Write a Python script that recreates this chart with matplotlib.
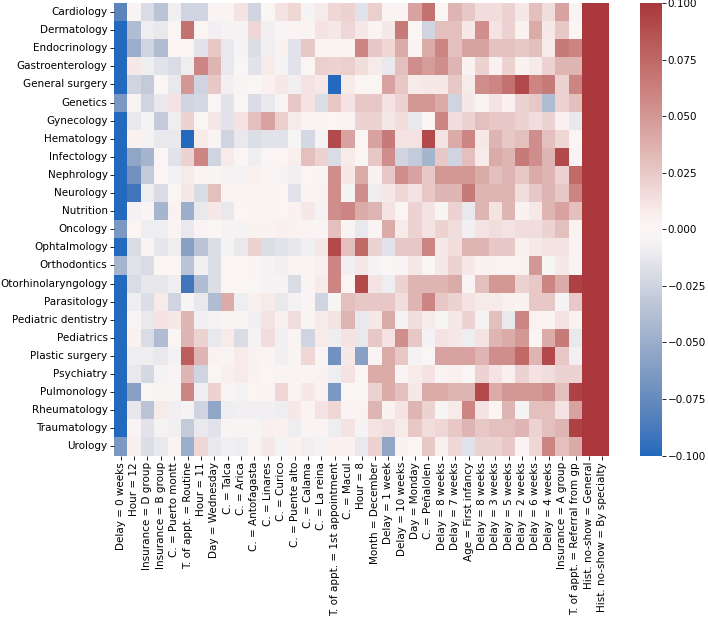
import numpy as np
import pandas as pd
import matplotlib
matplotlib.use('Agg')
import matplotlib.pyplot as plt
import seaborn as sns

features = ['Delay = 0 weeks', 'Hour = 12', 'Insurance = D group', 'Insurance = B group',
            'C. = Puerto montt', 'T. of appt. = Routine', 'Hour = 11', 'Day = Wednesday',
            'C. = Talca', 'C. = Arica', 'C. = Antofagasta', 'C. = Linares', 'C. = Curico',
            'C. = Puente alto', 'C. = Calama', 'C. = La reina', 'T. of appt. = 1st appointment',
            'C. = Macul', 'Hour = 8', 'Month = December', 'Delay = 1 week', 'Delay = 10 weeks',
            'Day = Monday', 'C. = Peñalolen', 'Delay = 8 weeks', 'Delay = 7 weeks',
            'Age = First infancy', 'Delay = 8 weeks', 'Delay = 3 weeks', 'Delay = 5 weeks',
            'Delay = 2 weeks', 'Delay = 6 weeks', 'Delay = 4 weeks', 'Insurance = A group',
            'T. of appt. = Referral from gp', 'Hist. no-show = General', 'Hist. no-show = By specialty']

specialties = ['Cardiology', 'Dermatology', 'Endocrinology', 'Gastroenterology', 'General surgery',
               'Genetics', 'Gynecology', 'Hematology', 'Infectology', 'Nephrology', 'Neurology',
               'Nutrition', 'Oncology', 'Ophtalmology', 'Orthodontics', 'Otorhinolaryngology',
               'Parasitology', 'Pediatric dentistry', 'Pediatrics', 'Plastic surgery', 'Psychiatry',
               'Pulmonology', 'Rheumatology', 'Traumatology', 'Urology']

# last two columns (history of no-shows) are well above the colour range
cardiology = [-0.08, 0.003, -0.02, -0.035, -0.008, -0.025, -0.025, 0.003, 0.003, 0.012, -0.025, 0.002, 0.012, 0.018, -0.005, 0.008,
              0.018, 0.02, -0.015, 0.022, 0.003, 0.003, 0.045, 0.07, 0.002, 0.035, 0.025, 0.015, 0.015, 0.02, 0.01, 0.03, 0.015, 0.045, 0.003, 0.2, 0.3]
dermatology = [-0.1, -0.04, -0.01, -0.012, 0.002, 0.07, 0.002, -0.008, -0.006, -0.006, 0.018, -0.008, 0.003, 0.003, 0.003, 0.012,
               0.01, 0.018, 0.01, 0.003, 0.01, 0.065, 0.002, -0.025, 0.03, 0.03, 0.01, 0.055, 0.012, 0.02, 0.004, 0.04, 0.01, 0.025, 0.002, 0.2, 0.3]
endocrinology = [-0.1, -0.05, -0.025, -0.04, 0.002, 0.002, -0.015, 0.025, -0.012, -0.005, -0.018, -0.008, 0.004, -0.015, 0.025, 0.003,
                 0.003, 0.003, 0.06, 0.025, 0.018, 0.04, 0.003, 0.04, 0.06, 0.03, 0.045, 0.045, 0.028, 0.028, 0.025, 0.03, 0.008, 0.065, 0.06, 0.2, 0.3]
gastroenterology = [-0.1, 0.01, -0.01, -0.015, -0.02, -0.01, 0.06, 0.035, -0.012, -0.003, -0.015, 0.008, -0.006, -0.015, 0.002, 0.022,
                    0.02, 0.022, 0.015, 0.008, -0.012, 0.03, 0.055, 0.048, 0.055, 0.035, 0.004, 0.02, 0.004, 0.02, 0.004, 0.008, 0.02, 0.035, 0.035, 0.2, 0.3]
general_surgery = [-0.1, -0.025, -0.03, -0.003, -0.012, 0.05, -0.025, 0.025, -0.008, -0.004, -0.003, 0.005, 0.01, -0.008, 0.012, 0.01,
                   -0.1, 0.008, 0.002, 0.002, 0.045, 0.025, 0.008, 0.01, 0.01, 0.025, 0.008, 0.055, 0.06, 0.07, 0.09, 0.06, 0.065, 0.02, 0.06, 0.2, 0.3]
genetics = [-0.065, 0.003, -0.025, -0.012, 0.012, -0.025, -0.022, -0.003, -0.015, 0.002, -0.02, -0.012, 0.003, 0.025, 0.012, -0.018,
            0.025, 0.012, 0.025, 0.025, 0.012, 0.02, 0.05, 0.05, 0.04, -0.025, 0.01, 0.003, 0.012, 0.005, 0.02, 0.025, -0.04, 0.02, 0.03, 0.2, 0.3]
gynecology = [-0.1, -0.012, -0.006, -0.03, -0.01, 0.02, 0.002, 0.01, -0.015, 0.012, 0.03, 0.045, 0.022, 0.008, 0.003, 0.003,
              0.002, 0.003, 0.02, 0.02, 0.01, 0.015, -0.012, 0.002, 0.06, 0.015, 0.02, 0.03, 0.025, 0.025, 0.02, 0.015, 0.02, 0.005, -0.012, 0.2, 0.3]
hematology = [-0.1, 0.004, -0.006, -0.012, -0.012, -0.1, 0.008, 0.003, -0.025, -0.012, -0.018, -0.015, -0.015, -0.004, -0.022, -0.006,
              0.09, 0.045, 0.002, 0.045, 0.065, 0.012, 0.012, 0.09, 0.012, 0.04, 0.06, 0.01, 0.035, 0.025, 0.03, 0.055, 0.03, 0.018, 0.002, 0.2, 0.3]
infectology = [-0.1, -0.055, -0.045, 0.0, -0.015, 0.02, 0.06, -0.025, 0.008, -0.003, -0.01, 0.001, 0.002, 0.007, 0.03, 0.02,
               -0.02, 0.008, 0.002, 0.025, 0.055, -0.025, -0.03, -0.045, 0.025, -0.025, 0.03, 0.008, 0.04, 0.035, 0.065, 0.055, 0.035, 0.09, 0.003, 0.2, 0.3]
nephrology = [-0.1, -0.07, -0.03, 0.001, -0.007, 0.008, 0.003, -0.004, -0.006, -0.006, 0.005, 0.003, -0.005, -0.008, 0.002, 0.003,
              0.055, 0.01, 0.04, 0.004, 0.025, 0.055, 0.045, 0.025, 0.05, 0.05, 0.05, 0.04, 0.03, 0.035, 0.025, 0.04, 0.035, 0.02, 0.075, 0.2, 0.3]
neurology = [-0.1, -0.09, -0.01, -0.02, 0.002, 0.01, -0.02, 0.03, 0.003, 0.003, 0.003, 0.003, 0.002, -0.015, 0.003, 0.004,
             0.055, -0.005, 0.055, -0.01, 0.01, 0.018, 0.012, 0.025, 0.035, 0.035, 0.065, 0.035, 0.035, 0.035, 0.015, 0.025, 0.035, 0.025, 0.06, 0.2, 0.3]
nutrition = [-0.1, -0.007, 0.003, -0.045, 0.004, -0.05, -0.012, 0.01, -0.012, 0.002, 0.003, 0.003, 0.002, 0.004, 0.01, -0.006,
             0.055, 0.06, 0.04, 0.035, 0.012, 0.002, 0.02, 0.012, -0.004, 0.02, -0.012, 0.035, 0.012, 0.035, 0.004, 0.01, 0.035, 0.045, 0.03, 0.2, 0.3]
oncology = [-0.065, 0.002, -0.01, -0.01, 0.003, -0.012, 0.003, -0.003, -0.006, -0.006, 0.004, 0.004, 0.006, 0.004, 0.003, 0.003,
            0.03, 0.003, -0.012, 0.003, 0.04, 0.008, 0.02, 0.012, 0.02, 0.015, -0.008, 0.012, 0.015, 0.012, 0.015, 0.015, 0.02, 0.03, 0.004, 0.2, 0.3]
ophtalmology = [-0.1, -0.02, 0.003, -0.014, -0.01, -0.06, -0.035, -0.018, -0.006, -0.012, 0.02, -0.018, -0.015, -0.013, -0.008, 0.01,
                0.09, 0.03, 0.075, 0.02, -0.015, 0.025, 0.025, 0.06, 0.01, 0.015, 0.035, 0.035, 0.025, 0.025, 0.006, 0.01, 0.012, 0.012, 0.003, 0.2, 0.3]
orthodontics = [-0.045, -0.015, -0.02, 0.002, 0.002, -0.035, -0.008, -0.018, 0.002, 0.002, 0.003, -0.006, -0.008, 0.003, 0.003, 0.006,
                0.06, -0.008, 0.01, -0.005, -0.003, 0.003, 0.01, -0.003, 0.01, 0.02, 0.01, 0.004, 0.004, 0.003, 0.004, 0.05, -0.004, 0.01, 0.003, 0.2, 0.3]
otorhinolaryngology = [-0.1, -0.02, -0.013, -0.013, -0.01, -0.09, -0.04, -0.018, 0.001, 0.002, -0.003, -0.005, -0.005, -0.02, 0.003, 0.008,
                       0.06, 0.002, 0.09, 0.012, -0.01, 0.02, 0.035, 0.035, 0.035, 0.04, 0.003, 0.03, 0.05, 0.05, 0.02, 0.025, 0.06, 0.04, 0.095, 0.2, 0.3]
parasitology = [-0.1, -0.01, -0.018, 0.008, -0.025, -0.004, -0.012, -0.04, 0.04, -0.01, 0.006, 0.008, -0.012, -0.007, 0.003, -0.025,
                -0.004, 0.03, 0.025, 0.025, 0.025, 0.015, 0.035, 0.06, 0.025, 0.02, 0.012, 0.008, 0.008, 0.005, 0.004, 0.025, 0.025, -0.005, 0.025, 0.2, 0.3]
pediatric_dentistry = [-0.1, -0.004, -0.012, 0.012, 0.01, 0.035, -0.008, -0.006, 0.003, -0.004, -0.008, 0.012, 0.006, 0.015, 0.003, 0.008,
                       0.012, 0.035, -0.012, 0.01, 0.04, -0.006, 0.015, 0.008, -0.004, 0.01, 0.02, -0.006, 0.03, -0.012, 0.06, 0.004, 0.003, 0.012, 0.004, 0.2, 0.3]
pediatrics = [-0.1, 0.004, -0.02, -0.04, 0.002, 0.035, 0.02, -0.012, 0.008, -0.02, -0.006, 0.015, -0.008, 0.003, -0.025, 0.008,
              -0.01, 0.012, -0.012, 0.025, 0.012, 0.055, 0.025, -0.007, 0.012, 0.01, -0.01, 0.012, 0.035, 0.04, 0.05, 0.002, 0.04, 0.065, -0.012, 0.2, 0.3]
plastic_surgery = [-0.1, -0.01, -0.01, -0.012, -0.007, 0.08, 0.035, 0.004, 0.003, 0.008, 0.004, 0.003, -0.008, 0.003, 0.018, 0.003,
                   -0.07, 0.01, -0.06, 0.003, 0.04, 0.025, -0.006, -0.003, 0.045, 0.045, 0.045, 0.035, 0.055, 0.055, 0.075, 0.035, 0.09, 0.025, -0.008, 0.2, 0.3]
psychiatry = [-0.1, -0.012, -0.022, -0.006, 0.003, 0.035, -0.025, -0.003, 0.006, 0.008, 0.004, -0.003, 0.003, 0.003, 0.003, 0.004,
              -0.01, 0.012, 0.002, 0.04, 0.04, 0.003, 0.008, 0.012, 0.003, 0.005, -0.003, 0.02, 0.012, 0.006, 0.02, 0.012, 0.015, 0.02, 0.02, 0.2, 0.3]
pulmonology = [-0.1, -0.06, 0.002, -0.004, -0.004, 0.06, -0.01, 0.02, -0.004, -0.006, 0.002, 0.003, 0.018, 0.003, 0.01, 0.004,
               -0.065, 0.002, -0.003, 0.02, 0.04, 0.03, 0.01, 0.04, 0.04, 0.035, 0.035, 0.09, 0.04, 0.05, 0.05, 0.05, 0.055, 0.03, 0.095, 0.2, 0.3]
rheumatology = [-0.1, -0.013, -0.035, 0.008, -0.008, -0.006, -0.025, -0.055, -0.01, -0.008, -0.008, -0.008, -0.01, 0.01, 0.003, 0.012,
                0.018, 0.003, 0.004, 0.035, 0.004, 0.012, 0.035, 0.02, -0.004, 0.008, 0.06, 0.012, 0.002, 0.035, -0.006, 0.03, 0.03, 0.012, 0.045, 0.2, 0.3]
traumatology = [-0.1, 0.003, -0.015, -0.006, -0.008, -0.03, -0.012, -0.015, 0.003, -0.004, -0.004, 0.006, 0.005, -0.01, 0.003, 0.003,
                -0.01, 0.012, -0.005, 0.012, 0.015, 0.008, 0.025, 0.015, 0.018, 0.025, 0.035, 0.025, 0.03, 0.03, 0.035, 0.02, 0.03, 0.035, 0.095, 0.2, 0.3]
urology = [-0.065, 0.006, -0.018, -0.012, 0.003, -0.05, 0.018, -0.012, -0.008, -0.01, 0.003, 0.01, -0.006, 0.004, -0.008, -0.006,
           0.005, 0.004, -0.012, 0.02, -0.055, 0.004, 0.002, 0.025, 0.006, 0.018, -0.015, 0.02, 0.02, 0.025, 0.003, 0.018, 0.06, 0.03, 0.04, 0.2, 0.3]

rows = [cardiology, dermatology, endocrinology, gastroenterology, general_surgery, genetics,
        gynecology, hematology, infectology, nephrology, neurology, nutrition, oncology,
        ophtalmology, orthodontics, otorhinolaryngology, parasitology, pediatric_dentistry,
        pediatrics, plastic_surgery, psychiatry, pulmonology, rheumatology, traumatology, urology]

df = pd.DataFrame(np.array(rows), index=specialties)

fs = 7.5
fig = plt.figure(figsize=(7.08, 6.2), dpi=100)
ax = fig.add_axes([114 / 708, 1 - 455.5 / 620, 495 / 708, 452.5 / 620])
cax = fig.add_axes([640 / 708, 1 - 455.5 / 620, 22 / 708, 452.5 / 620])

cmap = sns.color_palette("vlag", as_cmap=True)
sns.heatmap(df, ax=ax, cbar_ax=cax, cmap=cmap, vmin=-0.1, vmax=0.1, center=0,
            xticklabels=features, yticklabels=specialties)

ax.set_xticklabels(features, rotation=90, fontsize=fs)
ax.set_yticklabels(specialties, rotation=0, fontsize=fs)
ax.tick_params(length=2.6, width=0.6, pad=2)
cax.set_yticks([-0.1, -0.075, -0.05, -0.025, 0.0, 0.025, 0.05, 0.075, 0.1])
cax.tick_params(labelsize=fs, length=2.6, width=0.6, pad=1.5)

fig.savefig('out.png', dpi=100)
